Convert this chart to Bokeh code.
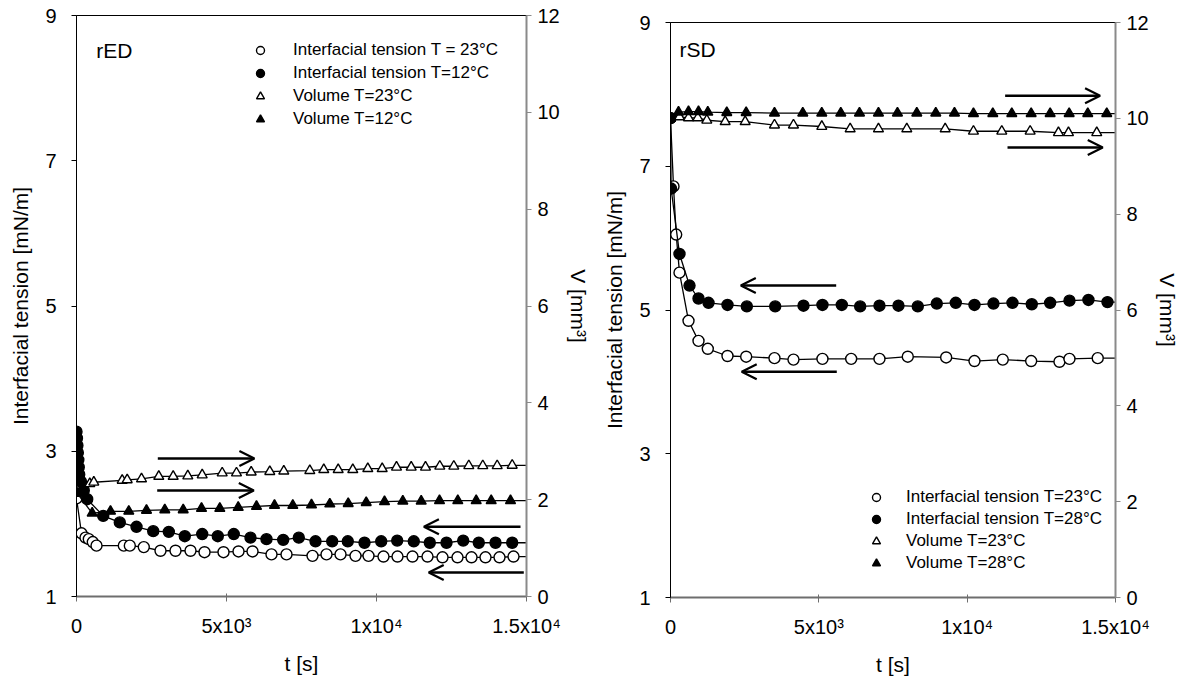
from bokeh.plotting import figure
from bokeh.models import (Range1d, LinearAxis, FixedTicker, Arrow, OpenHead,
                          Legend, LegendItem, Label, Spacer)
from bokeh.layouts import row, column
from bokeh.embed import file_html
from bokeh.resources import INLINE

FONT = "Liberation Sans"

# ---------------- data: panel rED ----------------
red_ift23_t = [0, 167, 300, 410, 543, 667, 1577, 1777, 2243, 2800, 3300, 3800, 4267, 4900, 5400,
               5867, 6500, 7000, 7867, 8333, 8800, 9300, 9733, 10233, 10700, 11200, 11700, 12200,
               12700, 13167, 13633, 14100, 14567]
red_ift23 = [2.35, 1.87, 1.81, 1.79, 1.75, 1.70, 1.70, 1.70, 1.68, 1.63, 1.63, 1.63, 1.61, 1.61, 1.62,
             1.62, 1.58, 1.58, 1.56, 1.58, 1.58, 1.56, 1.56, 1.55, 1.55, 1.55, 1.55, 1.54,
             1.54, 1.54, 1.54, 1.54, 1.55]
red_ift12_t = [0, 15, 30, 45, 60, 75, 90, 150, 243, 357, 890, 1443, 2000, 2557, 3077, 3610, 4190,
               4710, 5243, 5800, 6333, 6890, 7410, 7967, 8523, 9043, 9600, 10157, 10690, 11243,
               11777, 12333, 12890, 13410, 13967, 14523]
red_ift12 = [3.27, 3.18, 3.08, 2.98, 2.88, 2.78, 2.68, 2.58, 2.46, 2.34, 2.11, 2.02, 1.96, 1.90, 1.89,
             1.83, 1.86, 1.83, 1.86, 1.81, 1.79, 1.78, 1.81, 1.76, 1.76, 1.76, 1.74, 1.76, 1.77,
             1.76, 1.74, 1.74, 1.77, 1.74, 1.74, 1.74]
red_v23_t = [0, 443, 577, 1523, 1690, 2167, 2743, 3223, 3710, 4190, 4857, 5333, 5823, 6443, 6910,
             7777, 8243, 8723, 9210, 9710, 10190, 10667, 11157, 11633, 12110, 12577, 13077, 13543,
             14023, 14523]
red_v23 = [2.13, 2.33, 2.36, 2.40, 2.41, 2.43, 2.48, 2.48, 2.49, 2.51, 2.55, 2.55, 2.57, 2.58, 2.59,
           2.60, 2.62, 2.62, 2.62, 2.64, 2.64, 2.67, 2.67, 2.67, 2.69, 2.69, 2.70, 2.70, 2.70, 2.71]
red_v12_t = [0, 523, 1133, 1743, 2333, 2943, 3557, 4167, 4777, 5390, 6000, 6600, 7210, 7833, 8443,
             9057, 9657, 10267, 10877, 11490, 12100, 12710, 13323, 13823, 14467]
red_v12 = [2.15, 1.72, 1.76, 1.76, 1.78, 1.79, 1.79, 1.82, 1.82, 1.84, 1.86, 1.88, 1.88, 1.89, 1.91,
           1.92, 1.94, 1.96, 1.97, 1.97, 1.98, 1.98, 1.98, 1.98, 1.98]

# ---------------- data: panel rSD ----------------
rsd_ift23_t = [0, 101, 192, 303, 607, 944, 1257, 1921, 2551, 3505, 4145, 5122, 6090, 7044, 7998,
               9292, 10246, 11200, 12157, 13111, 13448, 14401]
rsd_ift23 = [7.67, 6.72, 6.05, 5.52, 4.85, 4.57, 4.46, 4.36, 4.35, 4.33, 4.31, 4.32, 4.32, 4.32, 4.35,
             4.34, 4.29, 4.31, 4.29, 4.28, 4.32, 4.33]
rsd_ift28_t = [0, 20, 303, 641, 944, 1281, 1921, 2573, 3529, 4483, 5122, 5774, 6393, 7044, 7684,
               8335, 8976, 9616, 10246, 10886, 11527, 12178, 12797, 13448, 14088, 14729]
rsd_ift28 = [7.67, 6.69, 5.78, 5.34, 5.16, 5.10, 5.07, 5.05, 5.05, 5.06, 5.07, 5.07, 5.05, 5.06, 5.06,
             5.05, 5.09, 5.10, 5.07, 5.09, 5.10, 5.08, 5.10, 5.13, 5.14, 5.11]
rsd_v23_t = [0, 303, 607, 920, 1224, 1843, 2517, 3505, 4145, 5100, 6056, 7010, 7965, 9259, 10212,
             11167, 12123, 13077, 13415, 14368]
rsd_v23 = [10.0, 10.03, 10.01, 10.01, 9.96, 9.93, 9.93, 9.86, 9.86, 9.83, 9.78, 9.78, 9.78, 9.78,
           9.73, 9.73, 9.73, 9.70, 9.70, 9.70]
rsd_v28_t = [0, 270, 607, 944, 1257, 1897, 2550, 3505, 4459, 5099, 5740, 6370, 7010, 7650, 8302,
             8942, 9572, 10212, 10864, 11504, 12157, 12797, 13438, 14065, 14705]
rsd_v28 = [10.0, 10.13, 10.14, 10.14, 10.13, 10.12, 10.12, 10.11, 10.11, 10.11, 10.11, 10.11, 10.11,
           10.11, 10.11, 10.11, 10.11, 10.10, 10.10, 10.10, 10.10, 10.10, 10.10, 10.10, 10.10]

x_ticks = [0, 5000, 10000, 15000]
x_tick_labels = ["0", "5x10³", "1x10⁴", "1.5x10⁴"]
ift_ticks = [1, 3, 5, 7, 9]
v_ticks = [0, 2, 4, 6, 8, 10, 12]

# arrows: (t_start, ift_start, t_end, ift_end) in data units of the left axis
red_arrows = [(2710, 2.90, 5930, 2.90), (2690, 2.46, 5910, 2.46),
              (14800, 1.96, 11580, 1.96), (14910, 1.33, 11740, 1.33)]
rsd_arrows = [(11280, 7.98, 14480, 7.98), (11360, 7.26, 14570, 7.26),
              (5585, 5.34, 2370, 5.34), (5605, 4.14, 2400, 4.14)]


def ext(t, y):
    return list(t) + [15000], list(y) + [y[-1]]


def panel(series, arrows, legend_labels, legend_loc, legend_pitch, standoff,
          fw, fh, bl, br, bt, bb):
    p = figure(frame_width=fw, frame_height=fh, x_range=Range1d(0, 15000), y_range=Range1d(1, 9),
               output_backend="svg", toolbar_location=None,
               min_border_left=bl, min_border_right=br, min_border_top=bt, min_border_bottom=bb)
    p.extra_y_ranges = {"v": Range1d(0, 12)}
    p.xgrid.visible = False
    p.ygrid.visible = False
    p.outline_line_color = "black"
    p.outline_line_width = 1
    p.background_fill_color = "white"
    p.border_fill_color = "white"

    xa = p.xaxis[0]
    xa.ticker = FixedTicker(ticks=x_ticks)
    xa.major_label_overrides = {t: l for t, l in zip(x_ticks, x_tick_labels)}
    xa.axis_label = "t [s]"
    ya = p.yaxis[0]
    ya.ticker = FixedTicker(ticks=ift_ticks)
    ya.axis_label = "Interfacial tension [mN/m]"
    ra = LinearAxis(y_range_name="v", ticker=FixedTicker(ticks=v_ticks), axis_label="V [mm³]")
    p.add_layout(ra, "right")

    for ax in (xa, ya, ra):
        ax.minor_tick_line_color = None
        ax.major_label_text_font = FONT
        ax.major_label_text_font_size = "20px"
        ax.major_label_text_color = "black"
        ax.axis_label_text_font = FONT
        ax.axis_label_text_font_size = "21px"
        ax.axis_label_text_font_style = "normal"
        ax.axis_label_text_color = "black"
        ax.major_tick_out = 5
        ax.major_tick_in = 0
    xa.major_tick_in = 3
    xa.axis_line_color = "#6e6e6e"
    xa.axis_line_width = 2
    xa.major_tick_line_color = "#6e6e6e"
    xa.major_label_standoff = 13
    xa.axis_label_standoff = 12
    ya.axis_line_color = "black"
    ya.major_tick_line_color = "black"
    ya.major_label_standoff = 15
    ya.axis_label_standoff = 10
    ra.axis_line_color = "#8a8a8a"
    ra.axis_line_width = 2
    ra.major_tick_line_color = "#8a8a8a"
    ra.major_label_standoff = 6
    ra.axis_label_standoff = 4

    rends = []
    for (t, y, on_v, marker, fill) in series:
        kw = {"y_range_name": "v"} if on_v else {}
        lt, ly = ext(t, y)
        p.line(lt, ly, line_color="black", line_width=1.3, **kw)
        size = 11 if marker == "circle" else 10
        r = p.scatter(t, y, marker=marker, size=size, fill_color=fill, line_color="black",
                      line_width=1.4, **kw)
        rends.append(r)

    for (x0, y0, x1, y1) in arrows:
        p.add_layout(Arrow(end=OpenHead(size=15, line_width=2.2, line_color="black"),
                           x_start=x0, y_start=y0, x_end=x1, y_end=y1,
                           line_width=2.5, line_color="black"))

    items = [LegendItem(label=lab, renderers=[r]) for lab, r in zip(legend_labels, rends)]
    gh, sp = legend_pitch
    leg = Legend(items=items, location=legend_loc, border_line_alpha=0, background_fill_alpha=0,
                 label_text_font=FONT, label_text_font_size="17px", label_text_color="black",
                 glyph_width=20, glyph_height=gh, label_height=gh, spacing=sp, padding=0,
                 margin=0, label_standoff=standoff)
    p.add_layout(leg)
    return p


p1 = panel([(red_ift23_t, red_ift23, False, "circle", "white"),
            (red_ift12_t, red_ift12, False, "circle", "black"),
            (red_v23_t, red_v23, True, "triangle", "white"),
            (red_v12_t, red_v12, True, "triangle", "black")],
           red_arrows,
           ["Interfacial tension T = 23°C", "Interfacial tension T=12°C",
            "Volume T=23°C", "Volume T=12°C"],
           (174, 467), (20, 3), 23,
           450, 581, 76, 74, 15, 82)
p1.add_layout(Label(x=660, y=8.52, text="rED", text_font=FONT, text_font_size="21px",
                    text_color="black", text_baseline="middle", text_align="left"))

p2 = panel([(rsd_ift23_t, rsd_ift23, False, "circle", "white"),
            (rsd_ift28_t, rsd_ift28, False, "circle", "black"),
            (rsd_v23_t, rsd_v23, True, "triangle", "white"),
            (rsd_v28_t, rsd_v28, True, "triangle", "black")],
           rsd_arrows,
           ["Interfacial tension T=23°C", "Interfacial tension T=28°C",
            "Volume T=23°C", "Volume T=28°C"],
           (196, 24), (20, 2), 20,
           445, 575, 67, 66, 15, 82)
p2.add_layout(Label(x=300, y=8.63, text="rSD", text_font=FONT, text_font_size="21px",
                    text_color="black", text_baseline="middle", text_align="left"))

layout = row(p1, column(Spacer(height=7), p2, spacing=0), spacing=0)
open("out.html", "w").write(file_html(layout, INLINE))
